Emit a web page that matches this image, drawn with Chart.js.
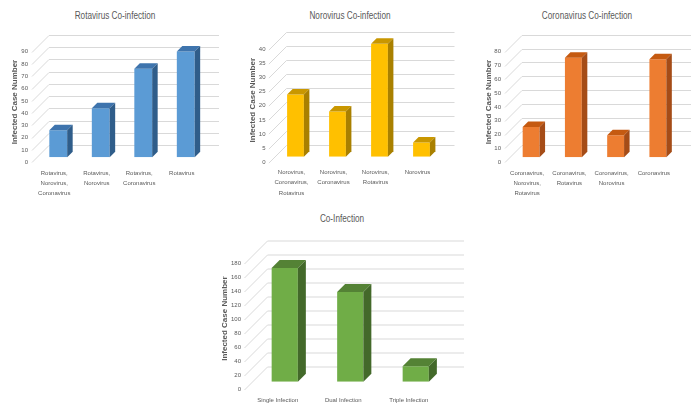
<!DOCTYPE html>
<html>
<head>
<meta charset="utf-8">
<script src="https://cdn.jsdelivr.net/npm/chart.js@4.4.1/dist/chart.umd.min.js"></script>
<style>
  body { margin:0; background:#fff; width:692px; height:414px; position:relative; overflow:hidden; }
  canvas { position:absolute; }
  .ttl { position:absolute; font-family:'Liberation Sans',sans-serif; font-size:10px; color:#595959; transform:translate(-50%,-50%) scaleX(0.82); white-space:nowrap; }
</style>
</head>
<body>
<div class="ttl" style="left:115px;top:15px">Rotavirus Co-infection</div>
<div class="ttl" style="left:350px;top:15px">Norovirus Co-infection</div>
<div class="ttl" style="left:587px;top:15px">Coronavirus Co-infection</div>
<div class="ttl" style="left:342px;top:218px">Co-Infection</div>
<canvas id="rota" width="230" height="205" style="left:0;top:0"></canvas>
<canvas id="noro" width="230" height="205" style="left:230px;top:0"></canvas>
<canvas id="corona" width="232" height="205" style="left:460px;top:0"></canvas>
<canvas id="total" width="280" height="214" style="left:200px;top:200px"></canvas>
<script>
// values
const rotaCategories = ['Rotavirus, Norovirus, Coronavirus', 'Rotavirus, Norovirus', 'Rotavirus, Coronavirus', 'Rotavirus']
const rotaValues = [22, 40, 72, 86]
const noroCategories = ['Norovirus, Coronavirus, Rotavirus', 'Norovirus, Coronavirus', 'Norovirus, Rotavirus', 'Norovirus']
const noroValues = [22, 16, 40, 5]
const coronaCategories = ['Coronavirus, Norovirus, Rotavirus', 'Coronavirus, Rotavirus', 'Coronavirus, Norovirus', 'Coronavirus']
const coronaValues = [22, 72, 16, 71]
const totalCategories = ['Single Infection', 'Dual Infection', 'Triple Infection']
const totalValues = [162, 128, 22]

// y axis: max and step for each chart
const rotaAxis = [90, 10]
const noroAxis = [40, 5]
const coronaAxis = [80, 10]
const totalAxis = [180, 20]

const axisTitle = 'Infected Case Number'
const grey = '#595959'
const sans = "'Liberation Sans',sans-serif"

function splitLabel(s){
  var parts = s.split(', ')
  return parts.length == 1 ? s : parts.map((p, i) => i < parts.length - 1 ? p + ',' : p)
}

// fake 3d: back wall gridlines + top/side faces of bars
const box3d = {
  id: 'box3d',
  beforeDatasetsDraw(chart, args, o){
    const {ctx, chartArea: a} = chart
    const y = chart.scales.y
    ctx.save()
    ctx.strokeStyle = '#d9d9d9'
    ctx.lineWidth = 1
    y.ticks.forEach(t => {
      const py = Math.round(y.getPixelForValue(t.value)) + 0.5
      ctx.beginPath()
      ctx.moveTo(a.left - o.d, py + o.d)
      ctx.lineTo(a.left + o.b, py - o.b)
      ctx.lineTo(a.right + o.b, py - o.b)
      ctx.stroke()
    })
    ctx.restore()
  },
  afterDatasetsDraw(chart, args, o){
    const ctx = chart.ctx
    const k = o.k
    ctx.save()
    chart.getDatasetMeta(0).data.forEach(bar => {
      const p = bar.getProps(['x', 'y', 'base', 'width'], true)
      const l = p.x - p.width / 2, r = p.x + p.width / 2
      ctx.fillStyle = o.top
      ctx.beginPath()
      ctx.moveTo(l, p.y); ctx.lineTo(r, p.y); ctx.lineTo(r + k, p.y - k); ctx.lineTo(l + k, p.y - k)
      ctx.closePath(); ctx.fill()
      ctx.fillStyle = o.side
      ctx.beginPath()
      ctx.moveTo(r, p.y); ctx.lineTo(r + k, p.y - k); ctx.lineTo(r + k, p.base - k); ctx.lineTo(r, p.base)
      ctx.closePath(); ctx.fill()
    })
    ctx.restore()
  }
}

function makeChart(id, cats, vals, axis, c){
  return new Chart(document.getElementById(id), {
    type: 'bar',
    data: {
      labels: cats.map(splitLabel),
      datasets: [{
        data: vals,
        backgroundColor: c.front,
        borderWidth: 0,
        barPercentage: c.barPct,
        categoryPercentage: 1
      }]
    },
    options: {
      responsive: false,
      animation: false,
      layout: { padding: c.pad },
      plugins: {
        legend: { display: false },
        tooltip: { enabled: false },
        box3d: { d: c.d, b: c.b, k: c.k, top: c.top, side: c.side }
      },
      scales: {
        x: {
          grid: { display: false, drawTicks: false },
          border: { display: false },
          ticks: { color: grey, font: { family: sans, size: 6, lineHeight: 1.68 }, padding: c.xPad, labelOffset: c.xOff, maxRotation: 0, autoSkip: false },
          afterFit: s => { s.height = c.xH }
        },
        y: {
          min: 0, max: axis[0],
          grid: { display: false, drawTicks: false },
          border: { display: false },
          ticks: { stepSize: axis[1], color: grey, font: { family: sans, size: 6 }, padding: c.yPad, labelOffset: c.d },
          title: { display: true, text: axisTitle, color: grey, font: { family: sans, size: 8, weight: 'bold' }, padding: 0 },
          afterFit: s => { s.width = c.yW }
        }
      }
    },
    plugins: [box3d]
  })
}

makeChart('rota', rotaCategories, rotaValues, rotaAxis, {
  front: '#5b9bd5', top: '#3e74ad', side: '#2f5d8a', barPct: 0.42,
  pad: { left: 10, right: 23, top: 46.7, bottom: 0 }, yW: 27, xH: 47.7,
  d: 5, b: 12, k: 5.5, xPad: 11, xOff: -4, yPad: 9
})
makeChart('noro', noroCategories, noroValues, noroAxis, {
  front: '#ffc000', top: '#c99700', side: '#a98000', barPct: 0.4,
  pad: { left: 18, right: 17.5, top: 43.7, bottom: 0 }, yW: 26.5, xH: 48.3,
  d: 5.6, b: 12, k: 5.5, xPad: 11, xOff: -4, yPad: 9
})
makeChart('corona', coronaCategories, coronaValues, coronaAxis, {
  front: '#ed7d31', top: '#c55a11', side: '#a54c17', barPct: 0.4,
  pad: { left: 24, right: 13, top: 46.7, bottom: 0 }, yW: 26, xH: 47.7,
  d: 5, b: 12, k: 5.5, xPad: 11, xOff: -4, yPad: 9
})
makeChart('total', totalCategories, totalValues, totalAxis, {
  front: '#70ad47', top: '#548235', side: '#43692a', barPct: 0.4,
  pad: { left: 20, right: 31.5, top: 55.5, bottom: 0 }, yW: 32, xH: 32.3,
  d: 7.5, b: 15.5, k: 8, xPad: 14, xOff: -7, yPad: 11
})
</script>
</body>
</html>
